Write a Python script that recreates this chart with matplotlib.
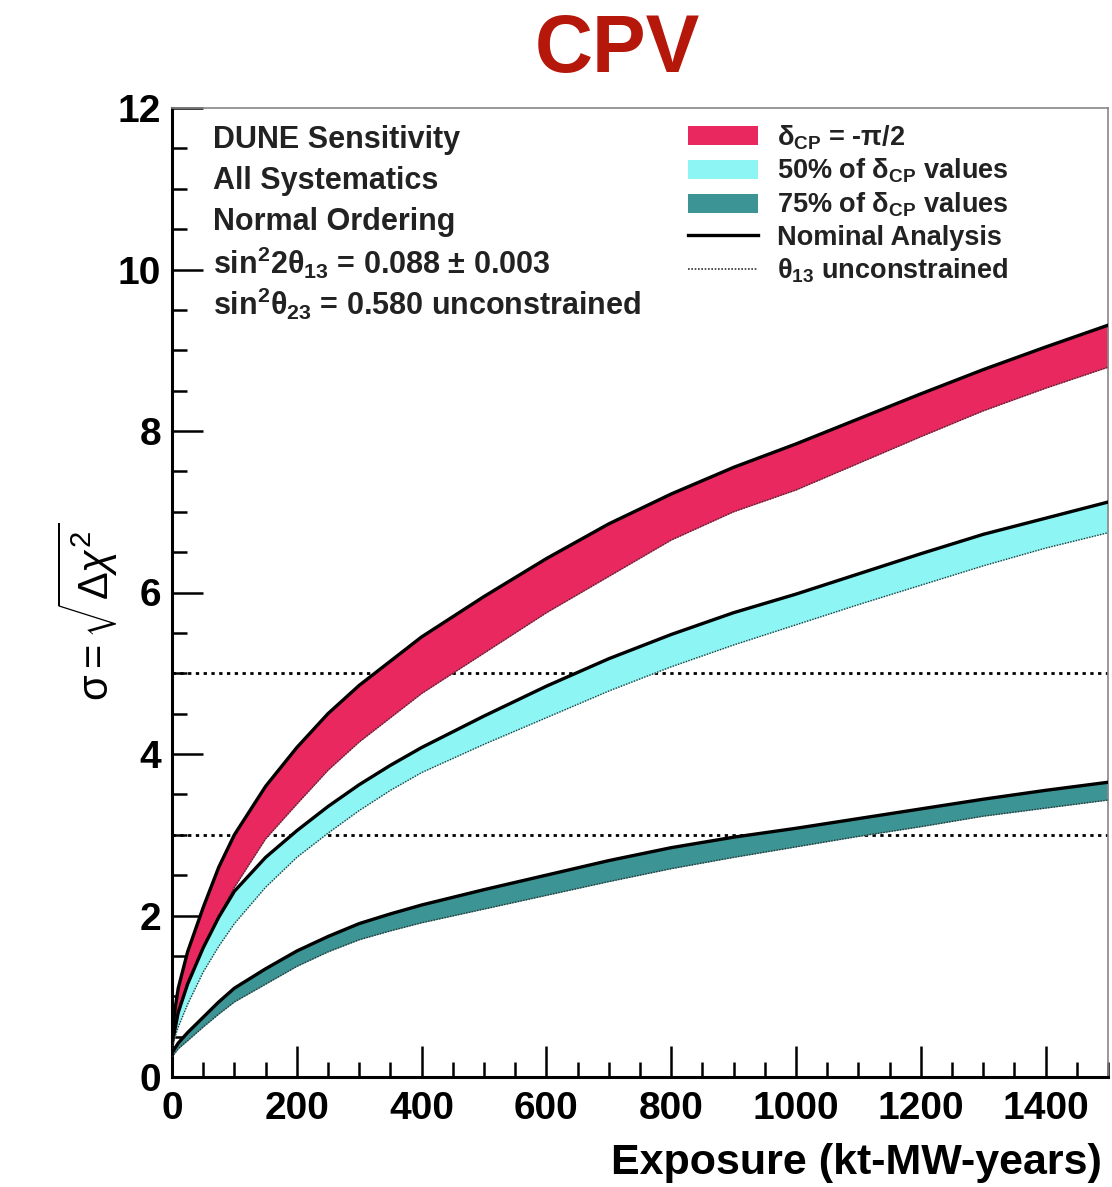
import matplotlib
matplotlib.use("Agg")
import matplotlib.pyplot as plt
from matplotlib.patches import Patch
from matplotlib.lines import Line2D
from matplotlib.ticker import MultipleLocator

plt.rcParams['font.family'] = ['Liberation Sans', 'DejaVu Sans']
plt.rcParams['mathtext.fontset'] = 'custom'
plt.rcParams['mathtext.rm'] = 'Liberation Sans'
plt.rcParams['mathtext.it'] = 'Liberation Sans:italic'
plt.rcParams['mathtext.bf'] = 'Liberation Sans:bold'

# ---- data (exposure in kt-MW-years, sigma) ----
exposure = [0, 5, 10, 25, 50, 75, 100, 150, 200, 250, 300, 350, 400, 500,
            600, 700, 800, 900, 1000, 1100, 1200, 1300, 1400, 1500]

# delta_CP = -pi/2 band: nominal (upper) and theta13 unconstrained (lower)
cp_max_nom = [0.5, 0.85, 1.1, 1.55, 2.1, 2.6, 3.0, 3.6, 4.08, 4.5, 4.85, 5.15,
              5.45, 5.95, 6.42, 6.85, 7.22, 7.55, 7.84, 8.15, 8.46, 8.76, 9.04, 9.31]
cp_max_unc = [0.4, 0.6, 0.8, 1.15, 1.6, 2.0, 2.35, 2.95, 3.38, 3.8, 4.15, 4.45,
              4.75, 5.25, 5.75, 6.2, 6.65, 7.0, 7.27, 7.6, 7.93, 8.25, 8.53, 8.79]

# 50% of delta_CP values
cp_50_nom = [0.4, 0.6, 0.8, 1.15, 1.6, 1.98, 2.3, 2.72, 3.05, 3.35, 3.62, 3.86,
             4.08, 4.47, 4.84, 5.18, 5.48, 5.75, 5.98, 6.23, 6.48, 6.72, 6.92, 7.12]
cp_50_unc = [0.35, 0.5, 0.62, 0.9, 1.3, 1.62, 1.9, 2.35, 2.72, 3.02, 3.3, 3.55,
             3.77, 4.12, 4.45, 4.78, 5.08, 5.35, 5.6, 5.85, 6.09, 6.33, 6.55, 6.74]

# 75% of delta_CP values
cp_75_nom = [0.3, 0.36, 0.42, 0.55, 0.74, 0.93, 1.1, 1.34, 1.56, 1.74, 1.9, 2.02,
             2.13, 2.32, 2.5, 2.68, 2.84, 2.97, 3.08, 3.2, 3.32, 3.44, 3.55, 3.65]
cp_75_unc = [0.25, 0.3, 0.35, 0.45, 0.62, 0.78, 0.93, 1.15, 1.37, 1.55, 1.7, 1.81,
             1.91, 2.08, 2.25, 2.42, 2.58, 2.72, 2.85, 2.98, 3.1, 3.23, 3.33, 3.43]

sigma_levels = [3, 5]

band_colors = ['#e8285f', '#8ef5f5', '#3d9494']
band_labels = [r'δ$_{\mathbf{CP}}$ = -π/2',
               r'50% of δ$_{\mathbf{CP}}$ values',
               r'75% of δ$_{\mathbf{CP}}$ values']

info_lines = ['DUNE Sensitivity',
              'All Systematics',
              'Normal Ordering',
              r'sin$^{\mathbf{2}}$2θ$_{\mathbf{13}}$ = 0.088 ± 0.003',
              r'sin$^{\mathbf{2}}$θ$_{\mathbf{23}}$ = 0.580 unconstrained']

# ---- figure ----
fig = plt.figure(figsize=(11.12, 11.87), dpi=100)
ax = fig.add_axes([172 / 1112, 110 / 1187, 936 / 1112, 969 / 1187])

bands = [(cp_max_nom, cp_max_unc), (cp_50_nom, cp_50_unc), (cp_75_nom, cp_75_unc)]
for (nom, unc), col in zip(bands, band_colors):
    ax.fill_between(exposure, unc, nom, color=col, lw=0, zorder=2)
    ax.plot(exposure, nom, color='black', lw=2.4, zorder=3, solid_joinstyle='round')
    ax.plot(exposure, unc, color='#333333', lw=1.0, ls=(0, (1, 1)), zorder=3)

for s in sigma_levels:
    ax.axhline(s, color='black', lw=2.0, ls=(0, (1.2, 1.6)), zorder=1)

ax.set_xlim(0, 1500)
ax.set_ylim(0, 12)
ax.xaxis.set_major_locator(MultipleLocator(200))
ax.xaxis.set_minor_locator(MultipleLocator(50))
ax.yaxis.set_major_locator(MultipleLocator(2))
ax.yaxis.set_minor_locator(MultipleLocator(0.5))
ax.tick_params(which='both', direction='in', top=False, right=False, width=1.8,
               labelsize=28)
ax.tick_params(which='major', length=22)
ax.tick_params(which='minor', length=11)
ax.tick_params(axis='x', pad=10)
ax.tick_params(axis='y', pad=8)
for lab in ax.get_xticklabels() + ax.get_yticklabels():
    lab.set_fontweight('bold')

for side in ['left', 'bottom']:
    ax.spines[side].set_linewidth(2.2)
for side in ['top', 'right']:
    ax.spines[side].set_linewidth(1.2)
    ax.spines[side].set_color('#888888')

ax.set_xlabel('Exposure (kt-MW-years)', fontsize=31, fontweight='bold', loc='right')
ax.xaxis.set_label_coords(0.993, -0.068)
ax.set_ylabel(r'$\mathrm{\sigma} = \sqrt{\Delta\chi^2}$', fontsize=30)
ax.yaxis.set_label_coords(-0.056, 0.48)

for i, line in enumerate(info_lines):
    ax.text(0.044, 0.967 - i * 0.0423, line, transform=ax.transAxes,
            fontsize=22, fontweight='bold', va='center', ha='left', color='#222222')

handles = [Patch(facecolor=c, edgecolor='none') for c in band_colors]
handles += [Line2D([], [], color='black', lw=2.4),
            Line2D([], [], color='#333333', lw=1.2, ls=(0, (1, 1)))]
labels = band_labels + ['Nominal Analysis', r'θ$_{\mathbf{13}}$ unconstrained']
leg = ax.legend(handles, labels, loc='upper left', bbox_to_anchor=(0.551, 0.9845),
                frameon=False, prop={'family': ['Liberation Sans', 'DejaVu Sans'],
                                     'weight': 'bold', 'size': 19.5},
                handlelength=2.6, handleheight=0.7, handletextpad=0.7,
                labelspacing=0.2, borderpad=0, borderaxespad=0)
for t in leg.get_texts():
    t.set_color('#222222')

fig.text(0.555, 0.957, 'CPV', color='#b5170b', fontsize=58, fontweight='bold',
         ha='center', va='center')

fig.savefig('out.png', dpi=100)
